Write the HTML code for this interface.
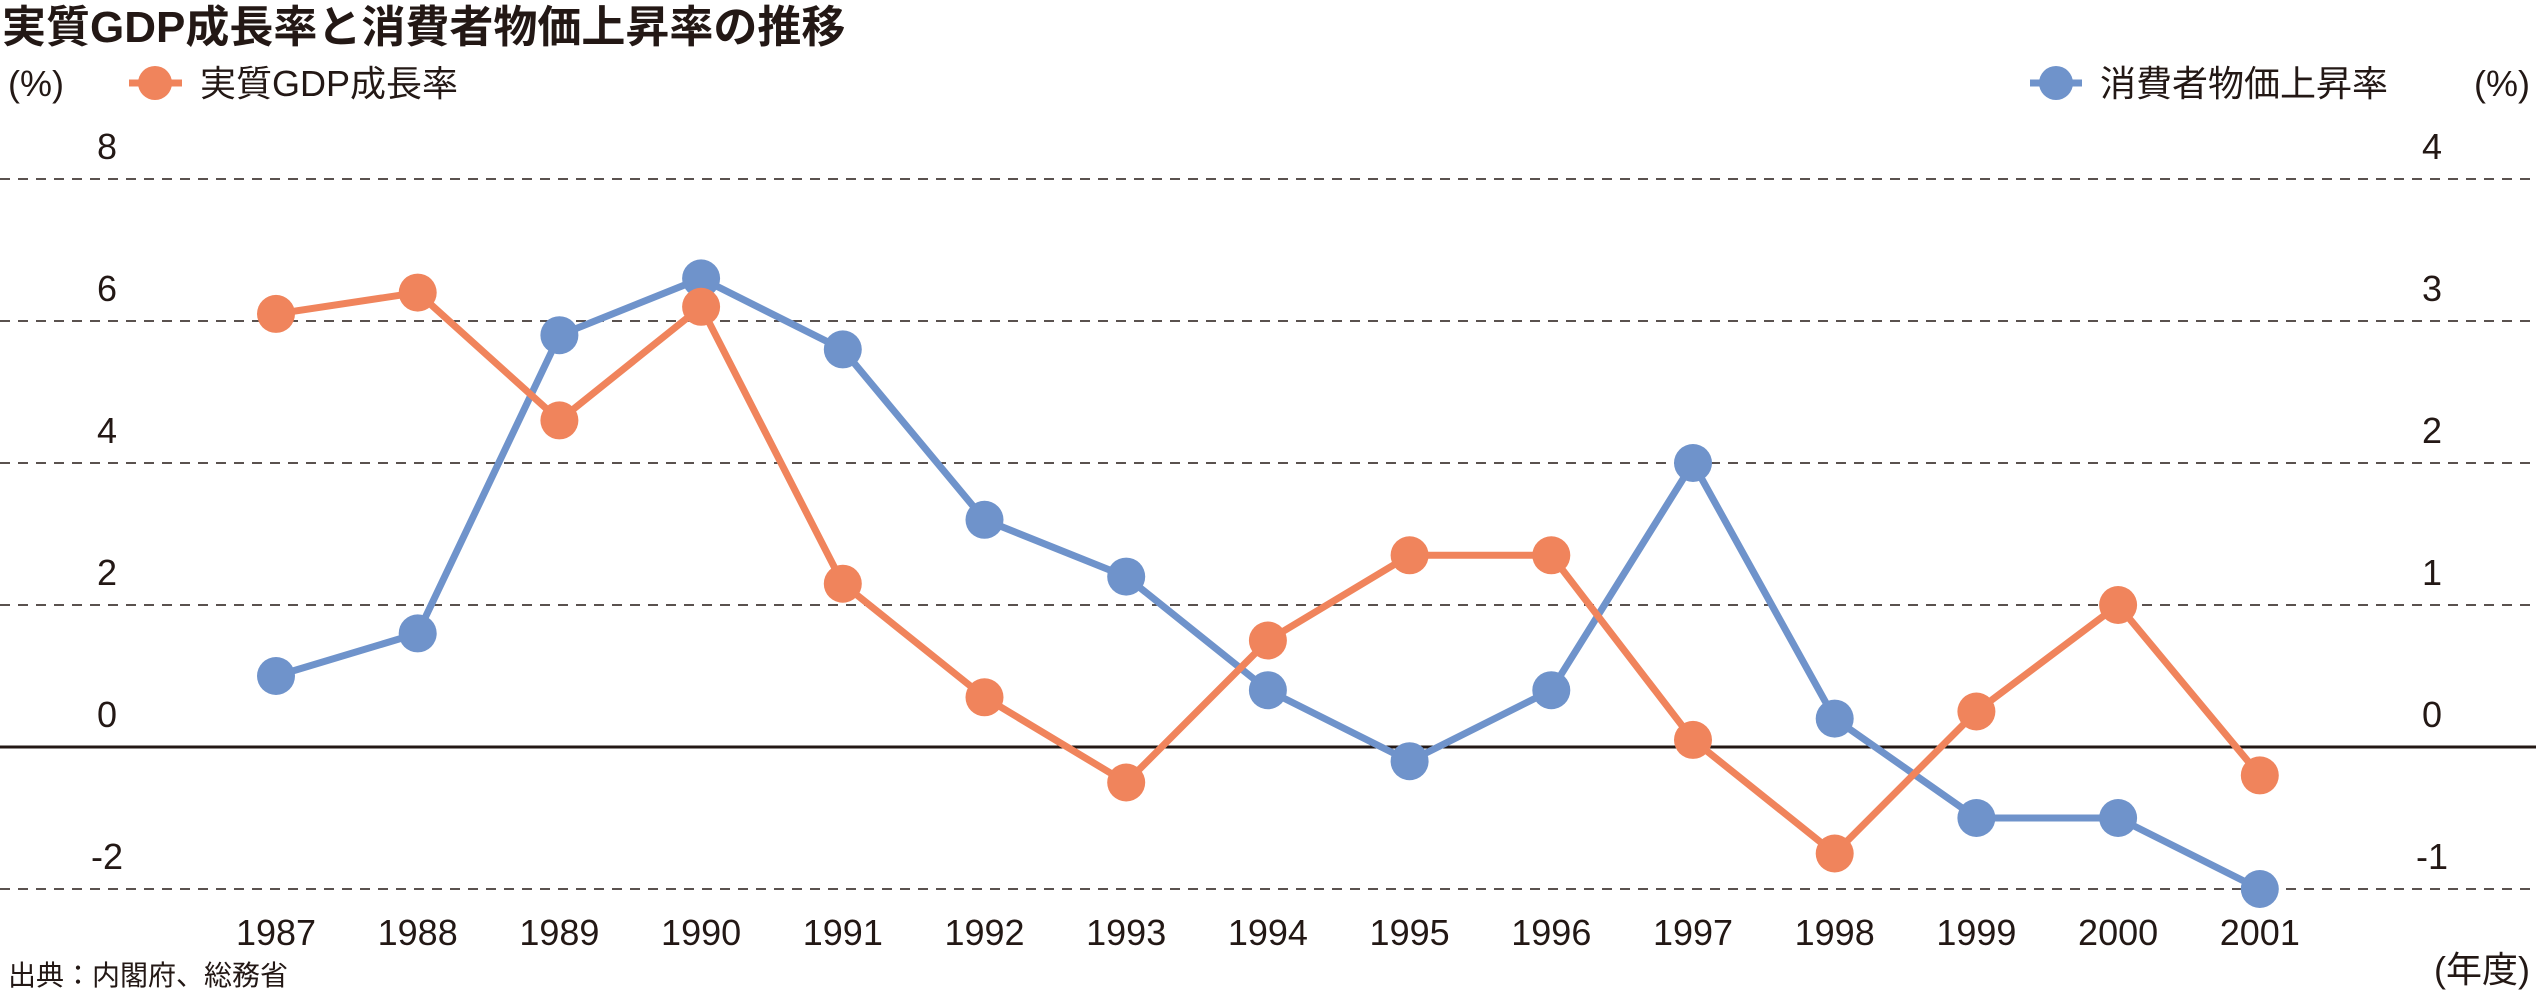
<!DOCTYPE html>
<html><head><meta charset="utf-8"><style>
body{margin:0;background:#fff;}
svg text{font-family:"Liberation Sans","Noto Sans CJK JP",sans-serif;fill:#231815;}
</style></head><body>
<svg width="2536" height="991" viewBox="0 0 2536 991" xmlns="http://www.w3.org/2000/svg">
<text x="2" y="42" font-size="44" font-weight="bold">実質GDP成長率と消費者物価上昇率の推移</text>
<text x="8" y="96" font-size="36">(%)</text>
<g>
<line x1="129" y1="83" x2="182" y2="83" stroke="#f0845c" stroke-width="7"/>
<circle cx="155" cy="83" r="17" fill="#f0845c"/>
<text x="200" y="96" font-size="36">実質GDP成長率</text>
</g>
<g>
<line x1="2030" y1="83" x2="2082" y2="83" stroke="#6f93cb" stroke-width="7"/>
<circle cx="2056" cy="83" r="17" fill="#6f93cb"/>
<text x="2100" y="96" font-size="36">消費者物価上昇率</text>
</g>
<text x="2530" y="96" font-size="36" text-anchor="end">(%)</text>
<g id="grid"></g><g id="ticks"></g><g id="series"></g>
<text x="8" y="985" font-size="28">出典：内閣府、総務省</text>
<text x="2530" y="982" font-size="36" text-anchor="end">(年度)</text>
</svg>
<script>
const years=["1987","1988","1989","1990","1991","1992","1993","1994","1995","1996","1997","1998","1999","2000","2001"];
const gdp=[6.1,6.4,4.6,6.2,2.3,0.7,-0.5,1.5,2.7,2.7,0.1,-1.5,0.5,2.0,-0.4];
const cpi=[0.5,0.8,2.9,3.3,2.8,1.6,1.2,0.4,-0.1,0.4,2.0,0.2,-0.5,-0.5,-1.0];
const leftTicks=[8,6,4,2,0,-2];
const rightTicks=[4,3,2,1,0,-1];
const NS="http://www.w3.org/2000/svg";
const x=i=>276+i*141.7;
const yL=v=>747-v*71;
const yR=v=>747-v*142;
function mk(t,a,p){const e=document.createElementNS(NS,t);for(const k in a)e.setAttribute(k,a[k]);p.appendChild(e);return e;}
const grid=document.getElementById('grid'),ticks=document.getElementById('ticks'),ser=document.getElementById('series');
leftTicks.forEach((v,i)=>{
 const y=yL(v);
 const l=mk('line',{x1:0,x2:2536,y1:y,y2:y,stroke:'#231815','stroke-width':v===0?3:1.5,'stroke-dasharray':v===0?'none':'10 8'},grid);
 
 
 const t=mk('text',{x:107,y:y-20,'font-size':36,'text-anchor':'middle'},ticks);t.textContent=v;
 
 
 const r=mk('text',{x:2432,y:y-20,'font-size':36,'text-anchor':'middle'},ticks);r.textContent=rightTicks[i];
 
 
});
years.forEach((yv,i)=>{
 const t=mk('text',{x:x(i),y:945,'font-size':36,'text-anchor':'middle'},ticks);t.textContent=yv;
 
 
});
function draw(vals,yf,color,name){
 const g=mk('g',{},ser);
 
 
 const pl=mk('polyline',{points:vals.map((v,i)=>x(i)+','+yf(v)).join(' '),fill:'none',stroke:color,'stroke-width':7,'stroke-linejoin':'round'},g);
 
 
 vals.forEach((v,i)=>{
  const c=mk('circle',{cx:x(i),cy:yf(v),r:19,fill:color},g);
  
  
 });
}
draw(cpi,yR,'#6f93cb','cpi');
draw(gdp,yL,'#f0845c','gdp');
</script>
</body></html>
